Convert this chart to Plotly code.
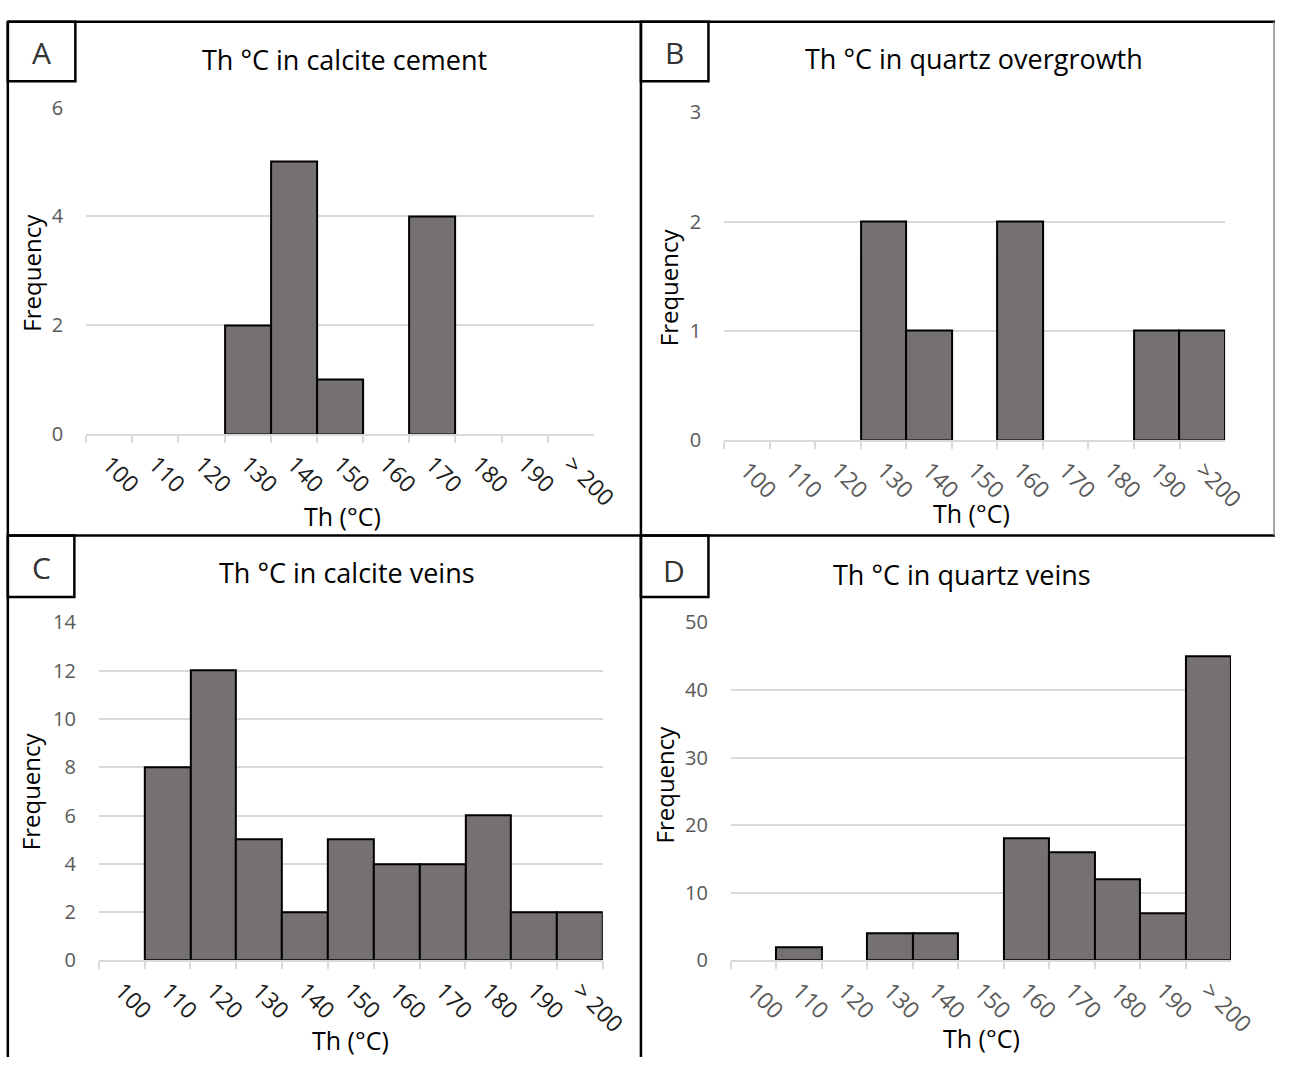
import plotly.graph_objects as go

# ---------------- data ----------------
cats_A = ["100", "110", "120", "130", "140", "150", "160", "170", "180", "190", "> 200"]
vals_A = [0, 0, 0, 2, 5, 1, 0, 4, 0, 0, 0]

cats_B = ["100", "110", "120", "130", "140", "150", "160", "170", "180", "190", ">200"]
vals_B = [0, 0, 0, 2, 1, 0, 2, 0, 0, 1, 1]

cats_C = ["100", "110", "120", "130", "140", "150", "160", "170", "180", "190", "> 200"]
vals_C = [0, 8, 12, 5, 2, 5, 4, 4, 6, 2, 2]

cats_D = ["100", "110", "120", "130", "140", "150", "160", "170", "180", "190", "> 200"]
vals_D = [0, 2, 0, 4, 4, 0, 18, 16, 12, 7, 45]

titles = ["Th °C in calcite cement", "Th °C in quartz overgrowth",
          "Th °C in calcite veins", "Th °C in quartz veins"]
letters = ["A", "B", "C", "D"]
yranges = [(0, 6, 2), (0, 3, 1), (0, 14, 2), (0, 50, 10)]

# ---------------- layout helpers ----------------
W, H = 1303, 1070
def px(x): return x / W
def py(y): return 1 - y / H

# plot areas in pixels: (x0, x1, y_bottom, y_top)
areas = [(88, 607, 431, 96), (740, 1252, 437, 101),
         (101, 616, 971, 624), (747, 1258, 971, 624)]
xtick_colors = ["#1a1a1a", "#595959", "#1a1a1a", "#595959"]

FONT = "Open Sans"
BAR = "#767171"
GRID = "#d9d9d9"

fig = go.Figure()
data = [(cats_A, vals_A), (cats_B, vals_B), (cats_C, vals_C), (cats_D, vals_D)]
layout = dict(
    width=W, height=H, margin=dict(l=0, r=0, t=0, b=0),
    paper_bgcolor="white", plot_bgcolor="white",
    showlegend=False, bargap=0,
    font=dict(family=FONT, color="#595959"),
)

for i, (cats, vals) in enumerate(data):
    n = "" if i == 0 else str(i + 1)
    fig.add_trace(go.Bar(
        x=cats, y=[v if v else None for v in vals], xaxis="x" + n, yaxis="y" + n,
        marker=dict(color=BAR, line=dict(color="#000000", width=2)),
        width=1.0,
    ))
    x0, x1, yb, yt = areas[i]
    lo, hi, step = yranges[i]
    layout["xaxis" + n] = dict(
        domain=[px(x0), px(x1)], anchor="y" + n, type="category",
        categoryorder="array", categoryarray=cats,
        range=[-0.5, len(cats) - 0.5], tickson="boundaries",
        ticks="outside", ticklen=7, tickcolor=GRID, tickwidth=1.5,
        showline=True, linecolor=GRID, linewidth=1.5,
        showgrid=False, tickangle=45, fixedrange=True,
        ticklabelstandoff=6,
        tickfont=dict(family=FONT, size=23, color=xtick_colors[i]),
    )
    layout["yaxis" + n] = dict(
        domain=[py(yb), py(yt)], anchor="x" + n,
        range=[lo, hi], dtick=step, tick0=0,
        showgrid=True, gridcolor=GRID, gridwidth=1.5,
        zeroline=False, showline=False, ticks="",
        ticklabelstandoff=22, fixedrange=True,
        tickfont=dict(family=FONT, size=20, color="#595959"),
    )

fig.update_layout(**layout)

# titles, axis titles, letters
title_pos = [(352, 47), (995, 46), (355, 573), (983, 575)]
xtitle_pos = [(350, 515), (993, 512), (358, 1053), (1003, 1051)]
ytitle_pos = [(32, 265), (684, 280), (32, 797), (679, 790)]
letter_pos = [(42, 40), (689, 40), (42, 568), (689, 571)]

for i in range(4):
    fig.add_annotation(text=titles[i], x=px(title_pos[i][0]), y=py(title_pos[i][1]),
                       xref="paper", yref="paper", showarrow=False,
                       xanchor="center", yanchor="middle",
                       font=dict(family=FONT, size=27, color="#000000"))
    fig.add_annotation(text="Th (°C)", x=px(xtitle_pos[i][0]), y=py(xtitle_pos[i][1]),
                       xref="paper", yref="paper", showarrow=False,
                       xanchor="center", yanchor="middle",
                       font=dict(family=FONT, size=25, color="#000000"))
    fig.add_annotation(text="Frequency", x=px(ytitle_pos[i][0]), y=py(ytitle_pos[i][1]),
                       xref="paper", yref="paper", showarrow=False, textangle=-90,
                       xanchor="center", yanchor="middle",
                       font=dict(family=FONT, size=24, color="#000000"))
    fig.add_annotation(text=letters[i], x=px(letter_pos[i][0]), y=py(letter_pos[i][1]),
                       xref="paper", yref="paper", showarrow=False,
                       xanchor="center", yanchor="middle",
                       font=dict(family=FONT, size=30, color="#333333"))

# panel borders and letter boxes
def line(x0, y0, x1, y1, w=2.5, c="#000000"):
    fig.add_shape(type="line", xref="paper", yref="paper",
                  x0=px(x0), y0=py(y0), x1=px(x1), y1=py(y1),
                  line=dict(color=c, width=w))

line(8, 8, 8, 1070)
line(8, 8, 1303, 8)
line(655, 8, 655, 1070)
line(8, 535, 1303, 535)
line(1302, 8, 1302, 535, w=1.5, c="#888888")
for (bx0, by0, bx1, by1) in [(8, 8, 77, 69), (655, 8, 724, 69),
                             (8, 535, 76, 598), (655, 535, 724, 598)]:
    fig.add_shape(type="rect", xref="paper", yref="paper",
                  x0=px(bx0), y0=py(by0), x1=px(bx1), y1=py(by1),
                  line=dict(color="#000000", width=2.5))

fig.write_html(
    "out.html",
    config={"displayModeBar": False},
    post_script=(
        "document.documentElement.style.margin='0';"
        "document.body.style.margin='0';document.body.style.padding='0';"
        "document.body.style.overflow='hidden';"
        "document.documentElement.style.overflow='hidden';"
        "var d=document.getElementById('{plot_id}');"
        "d.style.position='fixed';d.style.top='0px';d.style.left='0px';"
    ),
)
